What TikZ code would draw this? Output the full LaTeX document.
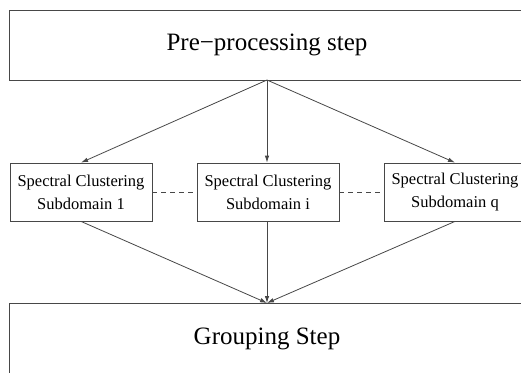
\documentclass[tikz,border=0pt]{standalone}
\usepackage{fontspec}
\setmainfont{Liberation Serif}
\usetikzlibrary{arrows.meta}
\begin{document}
\begin{tikzpicture}[x=1pt,y=-1pt,
  line/.style={draw=black!72,line width=0.8pt},
  bigbox/.style={line,rectangle,inner sep=0pt,minimum width=516pt,
    font=\fontsize{25}{30}\selectfont},
  subbox/.style={line,rectangle,inner sep=0pt,minimum width=142pt,minimum height=58pt,
    align=center,font=\fontsize{16.5}{23}\selectfont},
  arr/.style={line,-{Latex[length=7pt,width=4.5pt]}},
  dsh/.style={line,dash pattern=on 5pt off 4pt}]
\useasboundingbox (0,0) rectangle (521,372);
\clip (0,0) rectangle (521,372);
\node[bigbox,minimum height=70pt] (pre) at (267,45) {Pre−processing step};
\node[subbox] (s1) at (81,192) {Spectral Clustering\\Subdomain 1};
\node[subbox] (si) at (268,192) {Spectral Clustering\\Subdomain i};
\node[subbox] (sq) at (455,192) {Spectral Clustering\\Subdomain q};
\node[bigbox,anchor=north,text height=41pt,text depth=40pt] (grp) at (267,303) {Grouping Step};
\coordinate (top) at (267,80);
\coordinate (bot) at (267,303);
\draw[arr] (top) -- (s1.north);
\draw[arr] (top) -- (si.north -| top);
\draw[arr] (top) -- (sq.north);
\draw[arr] (s1.south) -- (bot);
\draw[arr] (si.south -| bot) -- (bot);
\draw[arr] (sq.south) -- (bot);
\draw[dsh] (s1.east) -- (si.west);
\draw[dsh] (si.east) -- (sq.west);
\end{tikzpicture}
\end{document}
